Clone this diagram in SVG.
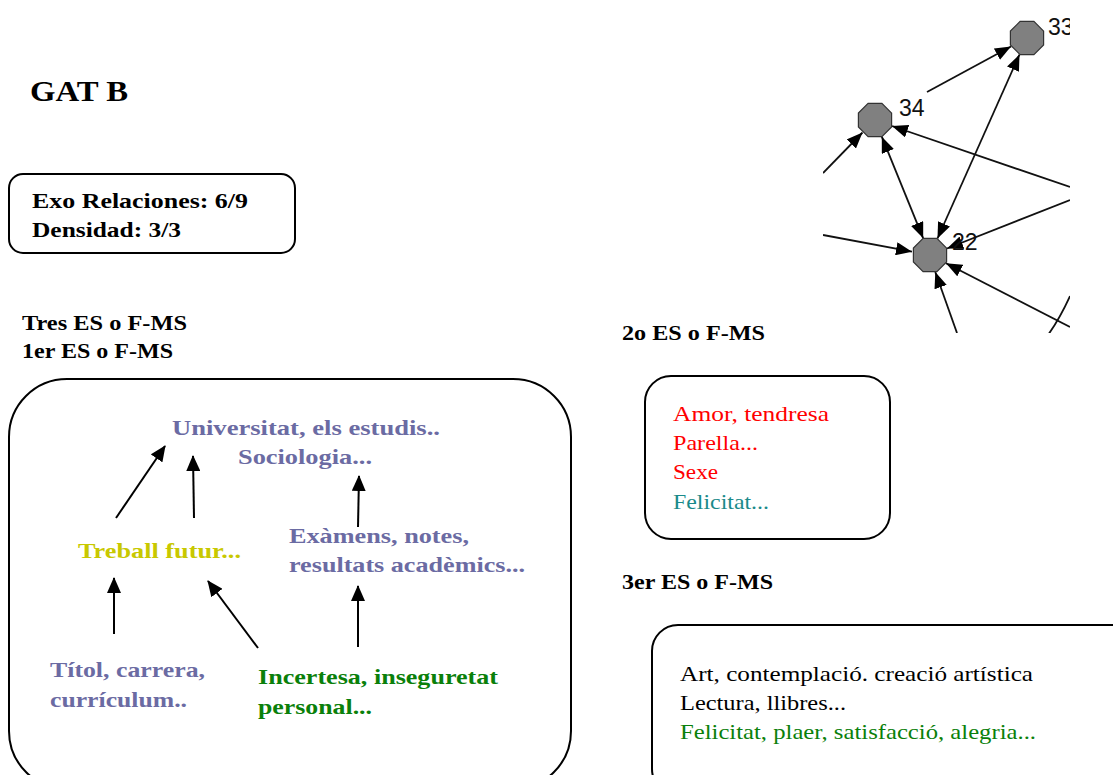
<svg xmlns="http://www.w3.org/2000/svg" width="1113" height="775" viewBox="0 0 1113 775">
<style>
.t{font-family:"Liberation Serif","DejaVu Serif",serif;}
.b{font-weight:bold;}
.box{fill:#fff;stroke:#000;stroke-width:2;}
.slate{fill:#6b6ba3;}
.yel{fill:#c8c800;}
.grn{fill:#0a800a;}
.red{fill:#ff0000;}
.teal{fill:#1a8a8a;}
.arr{stroke:#000;stroke-width:2;fill:none;marker-end:url(#ah);}
.ge{stroke:#111;stroke-width:1.8;fill:none;}
.gn{fill:#808080;stroke:#333;stroke-width:1.2;}
.gl{font-family:"Liberation Sans",Arial,sans-serif;font-size:23px;fill:#111;}
</style>
<defs>
<marker id="ah" viewBox="0 0 16 14" refX="15" refY="7" markerWidth="16" markerHeight="14" markerUnits="userSpaceOnUse" orient="auto">
<path d="M0,0 L16,7 L0,14 z" fill="#000"/>
</marker>
<marker id="gh" viewBox="0 0 16 13" refX="16" refY="6.5" markerWidth="16" markerHeight="13" markerUnits="userSpaceOnUse" orient="auto-start-reverse">
<path d="M0,0 L16,6.5 L0,13 z" fill="#000"/>
</marker>
<clipPath id="gc"><rect x="823" y="0" width="247" height="333"/></clipPath>
</defs>
<rect width="1113" height="775" fill="#fff"/>

<text class="t b" x="30" y="101" font-size="29" textLength="98" lengthAdjust="spacingAndGlyphs">GAT B</text>

<g id="stats">
<rect class="box" x="9" y="174" width="286" height="79" rx="14"/>
<text class="t b" x="32" y="208" font-size="22" textLength="216" lengthAdjust="spacingAndGlyphs">Exo Relaciones: 6/9</text>
<text class="t b" x="32" y="237" font-size="22" textLength="149" lengthAdjust="spacingAndGlyphs">Densidad: 3/3</text>
</g>

<text class="t b" x="22" y="330" font-size="22" textLength="165" lengthAdjust="spacingAndGlyphs">Tres ES o F-MS</text>
<text class="t b" x="22" y="358" font-size="22" textLength="151" lengthAdjust="spacingAndGlyphs">1er ES o F-MS</text>

<g id="box1">
<rect class="box" x="9" y="379" width="562" height="410" rx="58"/>
</g>
<g id="n-universitat">
<text class="t b slate" x="172" y="435" font-size="22" textLength="268" lengthAdjust="spacingAndGlyphs">Universitat, els estudis..</text>
<text class="t b slate" x="238" y="464" font-size="22" textLength="134" lengthAdjust="spacingAndGlyphs">Sociologia...</text>
</g>
<g id="n-treball">
<text class="t b yel" x="78" y="558" font-size="22" textLength="163" lengthAdjust="spacingAndGlyphs">Treball futur...</text>
</g>
<g id="n-examens">
<text class="t b slate" x="289" y="543" font-size="22" textLength="180" lengthAdjust="spacingAndGlyphs">Exàmens, notes,</text>
<text class="t b slate" x="289" y="572" font-size="22" textLength="236" lengthAdjust="spacingAndGlyphs">resultats acadèmics...</text>
</g>
<g id="n-titol">
<text class="t b slate" x="50" y="677" font-size="22" textLength="155" lengthAdjust="spacingAndGlyphs">Títol, carrera,</text>
<text class="t b slate" x="50" y="707" font-size="22" textLength="137" lengthAdjust="spacingAndGlyphs">currículum..</text>
</g>
<g id="n-incertesa">
<text class="t b grn" x="258" y="684" font-size="22" textLength="240" lengthAdjust="spacingAndGlyphs">Incertesa, inseguretat</text>
<text class="t b grn" x="258" y="714" font-size="22" textLength="114" lengthAdjust="spacingAndGlyphs">personal...</text>
</g>

<g id="connectors">
<line class="arr" x1="116" y1="518" x2="165" y2="446"/>
<line class="arr" x1="194" y1="518" x2="193" y2="456"/>
<line class="arr" x1="358" y1="527" x2="359" y2="476"/>
<line class="arr" x1="114" y1="634" x2="114" y2="578"/>
<line class="arr" x1="258" y1="648" x2="208" y2="581"/>
<line class="arr" x1="358" y1="647" x2="358" y2="586"/>
</g>

<text class="t b" x="622" y="340" font-size="22" textLength="143" lengthAdjust="spacingAndGlyphs">2o ES o F-MS</text>
<g id="box2">
<rect class="box" x="645" y="376" width="245" height="163" rx="26"/>
<text class="t red" x="673" y="421" font-size="22" textLength="156" lengthAdjust="spacingAndGlyphs">Amor, tendresa</text>
<text class="t red" x="673" y="450" font-size="22" textLength="85" lengthAdjust="spacingAndGlyphs">Parella...</text>
<text class="t red" x="673" y="479" font-size="22" textLength="45" lengthAdjust="spacingAndGlyphs">Sexe</text>
<text class="t teal" x="673" y="509" font-size="22" textLength="96" lengthAdjust="spacingAndGlyphs">Felicitat...</text>
</g>

<text class="t b" x="622" y="589" font-size="22" textLength="151" lengthAdjust="spacingAndGlyphs">3er ES o F-MS</text>
<g id="box3">
<rect class="box" x="652" y="625" width="500" height="170" rx="26"/>
<text class="t" x="680" y="681" font-size="22" fill="#000" textLength="353" lengthAdjust="spacingAndGlyphs">Art, contemplació. creació artística</text>
<text class="t" x="680" y="710" font-size="22" fill="#000" textLength="166" lengthAdjust="spacingAndGlyphs">Lectura, llibres...</text>
<text class="t grn" x="680" y="739" font-size="22" textLength="356" lengthAdjust="spacingAndGlyphs">Felicitat, plaer, satisfacció, alegria...</text>
</g>

<g id="network" clip-path="url(#gc)">
<g id="graph-edges">
<line class="ge" x1="927" y1="92" x2="1011" y2="46.5" marker-end="url(#gh)"/>
<line class="ge" x1="937.5" y1="238.5" x2="1019.5" y2="54.5" marker-start="url(#gh)" marker-end="url(#gh)"/>
<line class="ge" x1="881.8" y1="136.7" x2="923.2" y2="238.3" marker-start="url(#gh)" marker-end="url(#gh)"/>
<line class="ge" x1="823" y1="173" x2="862.5" y2="132.5" marker-end="url(#gh)"/>
<line class="ge" x1="1070" y1="187" x2="892" y2="126" marker-end="url(#gh)"/>
<line class="ge" x1="1070" y1="200" x2="947" y2="248.5" marker-end="url(#gh)"/>
<line class="ge" x1="823" y1="235" x2="912" y2="251.7" marker-end="url(#gh)"/>
<line class="ge" x1="1070" y1="327" x2="946" y2="263.2" marker-end="url(#gh)"/>
<line class="ge" x1="957" y1="333" x2="935.3" y2="272" marker-end="url(#gh)"/>
<path class="ge" d="M1070,296 Q1060,318 1048,335"/>
</g>
<g id="node-33">
<polygon class="gn" points="1043.6,31.1 1033.9,21.4 1020.1,21.4 1010.4,31.1 1010.4,44.9 1020.1,54.6 1033.9,54.6 1043.6,44.9"/>
<text class="gl" x="1048" y="35">33</text>
</g>
<g id="node-34">
<polygon class="gn" points="891.6,113.1 881.9,103.4 868.1,103.4 858.4,113.1 858.4,126.9 868.1,136.6 881.9,136.6 891.6,126.9"/>
<text class="gl" x="899" y="116">34</text>
</g>
<g id="node-22">
<polygon class="gn" points="946.6,248.1 936.9,238.4 923.1,238.4 913.4,248.1 913.4,261.9 923.1,271.6 936.9,271.6 946.6,261.9"/>
<text class="gl" x="952" y="250">22</text>
</g>
</g>
</svg>
